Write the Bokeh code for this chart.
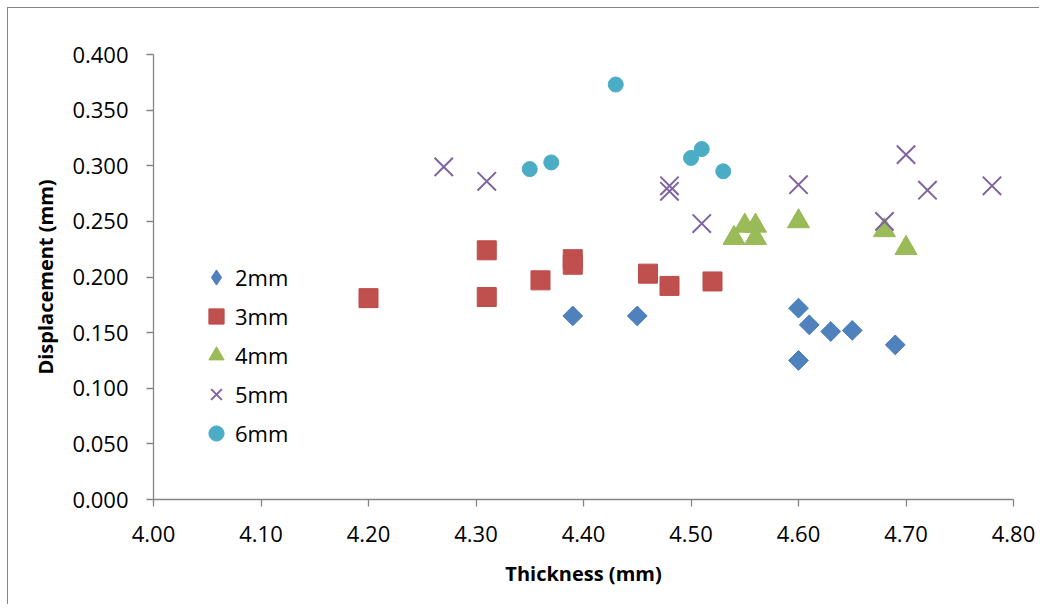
import numpy as np
from bokeh.plotting import figure
from bokeh.models import Range1d, FixedTicker, NumeralTickFormatter, Legend, LegendItem
from bokeh.embed import file_html
from bokeh.resources import INLINE

# ---- data ----
x_2mm = [4.39, 4.45, 4.60, 4.60, 4.61, 4.63, 4.65, 4.69]
y_2mm = [0.165, 0.165, 0.172, 0.125, 0.157, 0.151, 0.152, 0.139]

x_3mm = [4.20, 4.31, 4.31, 4.36, 4.39, 4.39, 4.46, 4.48, 4.52]
y_3mm = [0.181, 0.224, 0.182, 0.197, 0.216, 0.211, 0.203, 0.192, 0.196]

x_4mm = [4.54, 4.55, 4.56, 4.56, 4.60, 4.68, 4.70]
y_4mm = [0.235, 0.246, 0.246, 0.235, 0.250, 0.242, 0.226]

x_5mm = [4.27, 4.31, 4.48, 4.48, 4.51, 4.60, 4.68, 4.70, 4.72, 4.78]
y_5mm = [0.299, 0.286, 0.282, 0.277, 0.248, 0.283, 0.250, 0.310, 0.278, 0.282]

x_6mm = [4.35, 4.37, 4.43, 4.50, 4.51, 4.53]
y_6mm = [0.297, 0.303, 0.373, 0.307, 0.315, 0.295]

series_names = ["2mm", "3mm", "4mm", "5mm", "6mm"]
x_ticks = [4.00, 4.10, 4.20, 4.30, 4.40, 4.50, 4.60, 4.70, 4.80]
y_ticks = [0.000, 0.050, 0.100, 0.150, 0.200, 0.250, 0.300, 0.350, 0.400]

FONT = "Open Sans"
AX = "#868686"

p = figure(width=1038, height=605, output_backend="svg", toolbar_location=None,
           x_range=Range1d(4.0, 4.8), y_range=Range1d(0.0, 0.4),
           min_border_left=145, min_border_right=26, min_border_top=46, min_border_bottom=105)
p.frame_width = 860
p.frame_height = 445
p.styles = {"border-left": "1px solid #868686", "border-top": "1px solid #868686",
            "margin-left": "7px", "margin-top": "7px"}
p.outline_line_color = None
p.xgrid.visible = False
p.ygrid.visible = False

p.xaxis.ticker = FixedTicker(ticks=x_ticks)
p.yaxis.ticker = FixedTicker(ticks=y_ticks)
p.xaxis.formatter = NumeralTickFormatter(format="0.00")
p.yaxis.formatter = NumeralTickFormatter(format="0.000")
for ax in (p.xaxis, p.yaxis):
    ax.axis_line_color = AX
    ax.axis_line_width = 1.3
    ax.major_tick_line_color = AX
    ax.major_tick_line_width = 1.3
    ax.major_tick_out = 7
    ax.major_tick_in = 0
    ax.minor_tick_line_color = None
    ax.major_label_text_font = FONT
    ax.major_label_text_font_size = "22px"
    ax.major_label_text_color = "#000000"
    ax.axis_label_text_font = FONT
    ax.axis_label_text_font_size = "20px"
    ax.axis_label_text_font_style = "bold"
    ax.axis_label_text_color = "#000000"
p.xaxis.axis_label = "Thickness (mm)"
p.yaxis.axis_label = "Displacement (mm)"
p.xaxis.major_label_standoff = 19
p.yaxis.major_label_standoff = 18
p.xaxis.axis_label_standoff = 15
p.yaxis.axis_label_standoff = 10

# diamond drawn underneath the rotated squares; used as the legend glyph
# (the legend does not rotate markers)
r2_leg = p.scatter(x_2mm, y_2mm, marker="diamond", size=18,
                   fill_color="#4F81BD", line_color="#4A7EBB", line_width=1)
r2 = p.scatter(x_2mm, y_2mm, marker="square", angle=np.pi / 4, size=14,
               fill_color="#4F81BD", line_color="#4A7EBB", line_width=1)
r3 = p.scatter(x_3mm, y_3mm, marker="square", size=19,
               fill_color="#C0504D", line_color="#BE4B48", line_width=1)
r4 = p.scatter(x_4mm, y_4mm, marker="triangle", size=22,
               fill_color="#9BBB59", line_color="#98B954", line_width=1)
r5 = p.scatter(x_5mm, y_5mm, marker="x", size=26,
               line_color="#8064A2", line_width=2)
r6 = p.scatter(x_6mm, y_6mm, marker="circle", size=15,
               fill_color="#4BACC6", line_color="#4BACC6", line_width=1)

legend = Legend(items=[LegendItem(label=n, renderers=[r]) for n, r in
                       zip(series_names, [r2_leg, r3, r4, r5, r6])],
                location=(44, 47))
legend.background_fill_alpha = 0
legend.border_line_color = None
legend.padding = 0
legend.margin = 0
legend.spacing = 1
legend.glyph_width = 38
legend.glyph_height = 38
legend.label_standoff = 0
legend.label_text_font = FONT
legend.label_text_font_size = "22px"
legend.label_text_color = "#000000"
p.add_layout(legend)

open("out.html", "w").write(file_html(p, INLINE))
